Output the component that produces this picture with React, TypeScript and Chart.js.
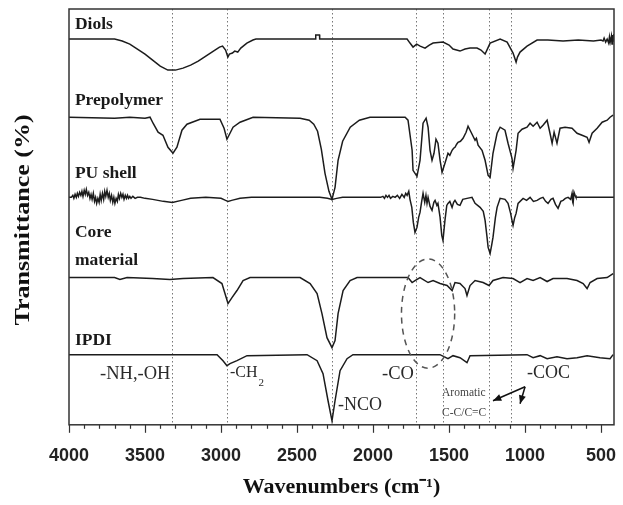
import React, { useEffect, useRef } from "react";
import { Chart, registerables } from "chart.js";

Chart.register(...registerables);

// ---------- axes ----------
const WN_LEFT = 4000;
const WN_RIGHT = 415;
const Y_MIN = 0;
const Y_MAX = 415;
const TICK_LABELS = [4000, 3500, 3000, 2500, 2000, 1500, 1000, 500];
const MINOR_STEP = 100;
const BAND_MARKERS = [3320, 2960, 2270, 1720, 1540, 1240, 1090];

// ---------- vertical offsets of the stacked spectra ----------
const OFFSET_DIOLS = 385;
const OFFSET_PREPOLYMER = 307;
const OFFSET_PU_SHELL = 227;
const OFFSET_CORE = 147;
const OFFSET_IPDI = 70;

// ---------- spectra: [wavenumber, absorption depth below baseline] ----------
const DIOLS: [number, number][] = [
  [4000, 0], [3750, 0], [3700, 0], [3650, 2], [3600, 5], [3550, 10], [3500, 15], [3450, 21],
  [3400, 27], [3350, 31], [3300, 31], [3250, 29], [3200, 26], [3150, 22], [3100, 17], [3050, 12],
  [3010, 8], [2990, 7], [2970, 11], [2955, 18], [2945, 15], [2925, 14], [2910, 12], [2890, 13],
  [2870, 9], [2830, 4], [2790, 1], [2770, 0], [2378, 0], [2377, -4], [2352, -4], [2351, 0],
  [1776, 0], [1757, 4], [1737, 8], [1713, 5], [1690, 7], [1658, 9], [1630, 6], [1605, 4],
  [1540, 3], [1500, 6], [1474, 10], [1428, 12], [1395, 10], [1362, 9], [1316, 9], [1290, 11],
  [1263, 15], [1245, 9], [1230, 4], [1164, 0], [1118, 3], [1079, 14], [1059, 23], [1050, 18],
  [1033, 13], [987, 7], [921, 1], [850, 1], [750, 2], [650, 1], [550, 2], [500, 1], [487, 2],
  [480, -1], [470, 3], [460, 0], [450, 4], [445, -2], [440, 3], [432, -3], [428, 5], [424, -4],
  [420, 2], [416, -5],
];

const PREPOLYMER: [number, number][] = [
  [4000, 0], [3700, 1], [3600, 0], [3500, 1], [3467, 0], [3447, 6], [3414, 15], [3382, 18],
  [3349, 30], [3316, 36], [3290, 30], [3257, 13], [3224, 7], [3138, 2], [3007, 2], [2980, 11],
  [2961, 22], [2941, 16], [2921, 10], [2875, 5], [2789, 0], [2480, 1], [2420, 3], [2390, 7],
  [2365, 14], [2340, 32], [2316, 56], [2290, 74], [2270, 82], [2250, 70], [2230, 43], [2200, 24],
  [2150, 10], [2090, 3], [2020, 0], [1789, 0], [1770, 3], [1743, 33], [1737, 53], [1711, 59],
  [1691, 43], [1671, 6], [1651, 1], [1638, 10], [1625, 33], [1612, 43], [1599, 36], [1586, 22],
  [1573, 26], [1559, 43], [1546, 55], [1527, 46], [1507, 36], [1495, 38], [1480, 33], [1470, 31],
  [1461, 30], [1450, 27], [1441, 25], [1425, 24], [1408, 21], [1388, 15], [1375, 9], [1355, 15],
  [1329, 23], [1320, 21], [1309, 28], [1283, 33], [1263, 43], [1243, 58], [1230, 60], [1211, 36],
  [1184, 16], [1164, 10], [1132, 13], [1112, 26], [1086, 41], [1079, 51], [1059, 33], [1046, 16],
  [1020, 12], [987, 10], [967, 6], [947, 9], [921, 5], [901, 11], [882, 8], [855, 3], [836, 16],
  [822, 26], [809, 15], [790, 26], [770, 11], [737, 10], [691, 11], [658, 16], [625, 18],
  [592, 20], [579, 25], [559, 16], [526, 11], [493, 5], [460, 3], [441, 0], [421, -2],
];

const PU_SHELL: [number, number][] = [
  [4000, 0], [3985, 0], [3975, -2], [3968, 1], [3960, -3], [3952, 0], [3945, -4], [3938, -1],
  [3930, -5], [3922, -2], [3915, -6], [3908, -1], [3900, -7], [3893, -3], [3886, -8], [3878, -2],
  [3870, -5], [3862, 1], [3855, -3], [3848, 2], [3840, -4], [3832, 4], [3825, 0], [3818, 6],
  [3810, 1], [3802, 5], [3795, -3], [3788, 3], [3780, -4], [3772, 2], [3765, -6], [3758, -1],
  [3750, -7], [3742, 0], [3735, -4], [3728, 3], [3720, -2], [3712, 5], [3705, 0], [3698, 6],
  [3690, 1], [3682, 4], [3675, -3], [3668, 1], [3660, -4], [3652, 0], [3645, -3], [3638, 2],
  [3630, -2], [3622, 1], [3615, -2], [3608, 1], [3600, -1], [3592, 1], [3580, -1], [3565, 1],
  [3550, 0], [3530, 0], [3500, 1], [3450, 2], [3380, 4], [3320, 5], [3260, 3], [3200, 1],
  [3100, 0], [3000, 1], [2970, 3], [2954, 4], [2930, 3], [2875, 1], [2800, 0], [2350, 0],
  [2300, 1], [2270, 2], [2240, 1], [2200, 0], [1950, 0], [1935, -1], [1925, 1], [1915, -2],
  [1905, 0], [1895, -2], [1885, 1], [1870, -1], [1855, 0], [1840, -2], [1825, 1], [1810, -3],
  [1795, 0], [1785, -4], [1776, -2], [1765, -6], [1757, 2], [1745, 10], [1735, 25], [1724, 35],
  [1711, 30], [1700, 20], [1691, 15], [1680, 4], [1671, -4], [1660, 5], [1652, -2], [1645, 6],
  [1638, 0], [1625, 9], [1612, 13], [1600, 5], [1592, 3], [1580, 8], [1573, 6], [1559, 20],
  [1548, 38], [1540, 43], [1527, 23], [1515, 8], [1507, 6], [1495, 4], [1480, 10], [1470, 5],
  [1461, 3], [1445, 7], [1428, 8], [1410, 2], [1382, 1], [1349, 0], [1329, 6], [1296, 10],
  [1275, 14], [1263, 23], [1250, 40], [1243, 50], [1230, 56], [1220, 48], [1211, 40], [1195, 20],
  [1184, 10], [1164, 1], [1132, 2], [1112, 6], [1095, 16], [1086, 23], [1079, 28], [1068, 20],
  [1059, 16], [1046, 6], [1013, 1], [990, 3], [967, 0], [945, 4], [921, 3], [900, 1], [882, 0],
  [865, 4], [849, 6], [830, 2], [816, 1], [800, 7], [783, 11], [765, 4], [750, 3], [735, 1],
  [717, 0], [700, 2], [691, -4], [686, 5], [684, 6], [678, -5], [671, -2], [665, 0], [415, 0],
];

const CORE_MATERIAL: [number, number][] = [
  [4000, 0], [3700, 0], [3665, 2], [3618, 0], [3450, 1], [3336, 2], [3250, 1], [3053, 0],
  [2994, 6], [2974, 16], [2954, 26], [2928, 20], [2895, 13], [2855, 3], [2809, 0], [2480, 0],
  [2414, 6], [2368, 16], [2336, 36], [2303, 60], [2270, 70], [2250, 63], [2230, 36], [2197, 13],
  [2151, 3], [2105, 0], [1770, 0], [1743, 5], [1724, 3], [1691, 0], [1638, 5], [1605, 3],
  [1559, 6], [1513, 8], [1480, 13], [1461, 5], [1428, 6], [1395, 11], [1382, 18], [1362, 8],
  [1329, 3], [1276, 5], [1237, 8], [1211, 3], [1145, 0], [1079, 1], [1033, 5], [987, 1],
  [947, 3], [901, 0], [855, 4], [816, 1], [724, 1], [658, 3], [618, 6], [592, 11], [572, 5],
  [526, 1], [460, 0], [421, -4],
];

const IPDI: [number, number][] = [
  [4000, 0], [3026, 0], [2987, 6], [2961, 11], [2941, 9], [2895, 6], [2829, 1], [2434, 0],
  [2368, 6], [2329, 19], [2296, 46], [2270, 66], [2250, 46], [2217, 16], [2171, 4], [2132, 0],
  [1560, 0], [1507, 4], [1474, 1], [1428, 3], [1382, 8], [1362, 1], [987, 0], [947, 3],
  [901, 1], [855, 4], [790, 2], [724, 4], [658, 3], [592, 1], [507, 3], [441, 4], [421, 0],
];

const SERIES_NAMES = ["Diols", "Prepolymer", "PU shell", "Core material", "IPDI"];
const SERIES_OFFSETS = [OFFSET_DIOLS, OFFSET_PREPOLYMER, OFFSET_PU_SHELL, OFFSET_CORE, OFFSET_IPDI];
const SERIES_POINTS = [DIOLS, PREPOLYMER, PU_SHELL, CORE_MATERIAL, IPDI];

// ---------- annotations (data coordinates) ----------
const NAME_LABELS: [string, number, number][] = [
  ["Diols", 3961, 400],
  ["Prepolymer", 3961, 324],
  ["PU shell", 3961, 251],
  ["Core", 3961, 192],
  ["material", 3961, 164],
  ["IPDI", 3961, 84],
];
const GROUP_LABELS: [string, number, number, number][] = [
  ["-NH,-OH", 3796, 51, 18.5],
  ["-CH", 2941, 52, 16],
  ["-NCO", 2230, 19, 18],
  ["-CO", 1941, 51, 18.5],
  ["-COC", 987, 51, 18],
];
const CH2_SUB = "2";
const CH2_SUB_Y = 42;
const AROMATIC_LABELS: [string, number, number][] = [
  ["Aromatic", 1546, 32],
  ["C-C/C=C", 1546, 12],
];
const ARROW_ORIGIN: [number, number] = [1000, 38];
const ARROW_TARGETS: [number, number][] = [
  [1211, 24],
  [1033, 21],
];
const ELLIPSE_CENTER: [number, number] = [1638, 111];
const ELLIPSE_HALF_WN = 175;
const ELLIPSE_HALF_Y = 54.5;
const Y_TITLE = "Transmittance (%)";

const SERIF = '"Liberation Serif", "Times New Roman", serif';
const SANS = '"Liberation Sans", Arial, sans-serif';

function arrowHead(ctx: CanvasRenderingContext2D, fx: number, fy: number, tx: number, ty: number, size: number) {
  const ang = Math.atan2(ty - fy, tx - fx);
  ctx.beginPath();
  ctx.moveTo(tx, ty);
  ctx.lineTo(tx - size * Math.cos(ang - 0.4), ty - size * Math.sin(ang - 0.4));
  ctx.lineTo(tx - size * Math.cos(ang + 0.4), ty - size * Math.sin(ang + 0.4));
  ctx.closePath();
  ctx.fill();
}

const decorations = {
  id: "ftirDecorations",
  beforeDatasetsDraw(chart: any) {
    const { ctx, chartArea: a, scales } = chart;
    const x = scales.x;
    ctx.save();
    ctx.strokeStyle = "#777";
    ctx.lineWidth = 1;
    ctx.setLineDash([1.5, 2.5]);
    BAND_MARKERS.forEach((wn) => {
      const px = Math.round(x.getPixelForValue(wn)) + 0.5;
      ctx.beginPath();
      ctx.moveTo(px, a.top);
      ctx.lineTo(px, a.bottom);
      ctx.stroke();
    });
    ctx.restore();
  },
  afterDatasetsDraw(chart: any) {
    const { ctx, chartArea: a, scales } = chart;
    const x = scales.x;
    const y = scales.y;
    const px = (wn: number) => x.getPixelForValue(wn);
    const py = (v: number) => y.getPixelForValue(v);
    ctx.save();

    // frame
    ctx.strokeStyle = "#333";
    ctx.lineWidth = 1.5;
    ctx.strokeRect(a.left, a.top, a.right - a.left, a.bottom - a.top);

    // ticks (major + minor), outward
    ctx.lineWidth = 1.2;
    for (let wn = WN_LEFT; wn >= WN_RIGHT; wn -= MINOR_STEP) {
      const major = TICK_LABELS.includes(wn);
      const xx = Math.round(px(wn)) + 0.5;
      ctx.beginPath();
      ctx.moveTo(xx, a.bottom);
      ctx.lineTo(xx, a.bottom + (major ? 8 : 4));
      ctx.stroke();
    }

    // y-axis title (stretched along its length like the original)
    ctx.save();
    ctx.fillStyle = "#111";
    ctx.font = `bold 20px ${SERIF}`;
    ctx.textAlign = "center";
    ctx.textBaseline = "middle";
    ctx.translate(24, (a.top + a.bottom) / 2 + 3);
    ctx.rotate(-Math.PI / 2);
    ctx.scale(1.3, 1);
    ctx.fillText(Y_TITLE, 0, 0);
    ctx.restore();

    // ellipse
    ctx.save();
    ctx.strokeStyle = "#555";
    ctx.lineWidth = 1.5;
    ctx.setLineDash([6, 5]);
    const cx = px(ELLIPSE_CENTER[0]);
    const cy = py(ELLIPSE_CENTER[1]);
    const rx = Math.abs(px(ELLIPSE_CENTER[0] - ELLIPSE_HALF_WN) - cx);
    const ry = Math.abs(py(ELLIPSE_CENTER[1] + ELLIPSE_HALF_Y) - cy);
    ctx.beginPath();
    ctx.ellipse(cx, cy, rx, ry, 0, 0, Math.PI * 2);
    ctx.stroke();
    ctx.restore();

    // sample names
    ctx.fillStyle = "#1a1a1a";
    ctx.textBaseline = "middle";
    ctx.textAlign = "left";
    ctx.font = `bold 17.5px ${SERIF}`;
    NAME_LABELS.forEach(([t, wn, v]) => ctx.fillText(t, px(wn), py(v)));

    // functional groups
    ctx.fillStyle = "#2a2a2a";
    GROUP_LABELS.forEach(([t, wn, v, size]) => {
      ctx.font = `${size}px ${SERIF}`;
      ctx.fillText(t, px(wn), py(v));
      if (t === "-CH") {
        const w = ctx.measureText(t).width;
        ctx.font = `11px ${SERIF}`;
        ctx.fillText(CH2_SUB, px(wn) + w + 1, py(CH2_SUB_Y));
      }
    });

    ctx.fillStyle = "#444";
    ctx.font = `11.5px ${SERIF}`;
    AROMATIC_LABELS.forEach(([t, wn, v]) => ctx.fillText(t, px(wn), py(v)));

    // arrows
    ctx.strokeStyle = "#111";
    ctx.fillStyle = "#111";
    ctx.lineWidth = 1.5;
    const ox = px(ARROW_ORIGIN[0]);
    const oy = py(ARROW_ORIGIN[1]);
    ARROW_TARGETS.forEach(([wn, v]) => {
      const tx = px(wn);
      const ty = py(v);
      ctx.beginPath();
      ctx.moveTo(ox, oy);
      ctx.lineTo(tx, ty);
      ctx.stroke();
      arrowHead(ctx, ox, oy, tx, ty, 9);
    });

    ctx.restore();
  },
};

export default function App() {
  const canvasRef = useRef<HTMLCanvasElement | null>(null);

  useEffect(() => {
    const canvas = canvasRef.current;
    if (!canvas) return;
    const datasets = SERIES_POINTS.map((pts, i) => ({
      label: SERIES_NAMES[i],
      data: pts.map(([wn, d]) => ({ x: wn, y: SERIES_OFFSETS[i] - d })),
      borderColor: "#1c1c1c",
      borderWidth: 1.5,
      pointRadius: 0,
      tension: 0,
      fill: false,
    }));
    const minorTicks: number[] = [];
    for (let v = WN_LEFT; v >= WN_RIGHT; v -= MINOR_STEP) minorTicks.push(v);

    const chart = new Chart(canvas, {
      type: "line",
      data: { datasets },
      plugins: [decorations],
      options: {
        animation: false,
        responsive: true,
        maintainAspectRatio: false,
        layout: { padding: { left: 69, right: 9, top: 9, bottom: 0 } },
        plugins: { legend: { display: false }, tooltip: { enabled: false } },
        scales: {
          x: {
            type: "linear",
            reverse: true,
            min: WN_RIGHT,
            max: WN_LEFT,
            afterBuildTicks: (s: any) => {
              s.ticks = minorTicks.map((v) => ({ value: v }));
            },
            ticks: {
              autoSkip: false,
              maxRotation: 0,
              minRotation: 0,
              padding: 4,
              color: "#222",
              font: { family: SANS, size: 18, weight: "bold" },
              callback: (v: any) => (TICK_LABELS.includes(Number(v)) ? String(v) : ""),
            },
            grid: {
              display: true,
              drawOnChartArea: false,
              drawTicks: true,
              tickLength: 16.2,
              tickColor: "rgba(0,0,0,0)",
            },
            border: { display: false },
            title: {
              display: true,
              text: "Wavenumbers (cm\u207B\u00B9)",
              color: "#111",
              font: { family: SERIF, size: 22, weight: "bold" },
              padding: { top: 4, bottom: 4 },
            },
          },
          y: {
            display: false,
            min: Y_MIN,
            max: Y_MAX,
          },
        },
      },
    } as any);
    return () => chart.destroy();
  }, []);

  return (
    <div style={{ position: "fixed", left: 0, top: 0, width: 623, height: 505, background: "#fff" }}>
      <canvas ref={canvasRef} />
    </div>
  );
}
